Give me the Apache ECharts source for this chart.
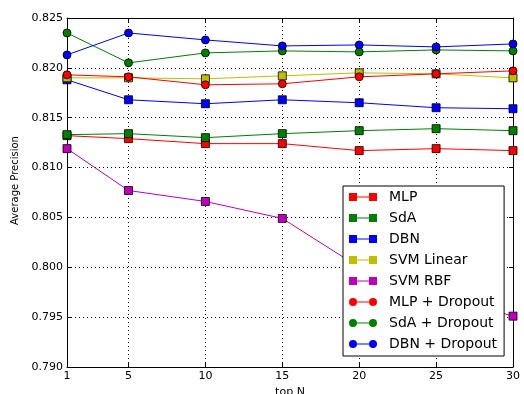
<!DOCTYPE html>
<html>
<head>
<meta charset="utf-8">
<script src="https://cdn.jsdelivr.net/npm/echarts@6/dist/echarts.min.js"></script>
<style>html,body{margin:0;padding:0;background:#fff}#c{width:524px;height:394px}</style>
</head>
<body>
<div id="c"></div>
<script>
var topN = [1, 5, 10, 15, 20, 25, 30];
var xTicks = [1, 5, 10, 15, 20, 25, 30];
var yTicks = [0.790, 0.795, 0.800, 0.805, 0.810, 0.815, 0.820, 0.825];

var mlp        = [0.8132, 0.8129, 0.8124, 0.8124, 0.8117, 0.8119, 0.8117];
var sda        = [0.8133, 0.8134, 0.8130, 0.8134, 0.8137, 0.8139, 0.8137];
var dbn        = [0.8188, 0.8168, 0.8164, 0.8168, 0.8165, 0.8160, 0.8159];
var svmLinear  = [0.8190, 0.8190, 0.8189, 0.8192, 0.8195, 0.8194, 0.8190];
var svmRbf     = [0.8119, 0.8077, 0.8066, 0.8049, 0.8000, 0.7973, 0.7951];
var mlpDrop    = [0.8193, 0.8191, 0.8183, 0.8184, 0.8191, 0.8194, 0.8197];
var sdaDrop    = [0.8235, 0.8205, 0.8215, 0.8217, 0.8216, 0.8218, 0.8217];
var dbnDrop    = [0.8213, 0.8235, 0.8228, 0.8222, 0.8223, 0.8221, 0.8224];

var names = ['MLP', 'SdA', 'DBN', 'SVM Linear', 'SVM RBF', 'MLP + Dropout', 'SdA + Dropout', 'DBN + Dropout'];
var values = [mlp, sda, dbn, svmLinear, svmRbf, mlpDrop, sdaDrop, dbnDrop];
var colors = ['#ff0000', '#008000', '#0000ff', '#bfbf00', '#bf00bf', '#ff0000', '#008000', '#0000ff'];
var shapes = ['rect', 'rect', 'rect', 'rect', 'rect', 'circle', 'circle', 'circle'];

var sqIcon = 'path://M0,0L8,0L8,8L0,8ZM8,3.5L20,3.5L20,4.5L8,4.5ZM20,0L28,0L28,8L20,8Z';
var ciIcon = 'path://M0,4A4,4,0,1,1,8,4A4,4,0,1,1,0,4ZM8,3.5L20,3.5L20,4.5L8,4.5ZM20,4A4,4,0,1,1,28,4A4,4,0,1,1,20,4Z';

var series = names.map(function (n, i) {
  return {
    name: n,
    type: 'line',
    xAxisIndex: 0,
    yAxisIndex: 0,
    data: topN.map(function (x, j) { return [x, values[i][j]]; }),
    symbol: shapes[i],
    symbolSize: 8,
    color: colors[i],
    lineStyle: { width: 1, color: colors[i] },
    itemStyle: { color: colors[i], borderColor: '#000', borderWidth: 0.8 },
    emphasis: { disabled: true },
    animation: false,
    z: 3
  };
});

var font = 'DejaVu Sans';
var chart = echarts.init(document.getElementById('c'), null, { renderer: 'canvas' });
chart.setOption({
  backgroundColor: '#fff',
  animation: false,
  grid: { left: 67, right: 11, top: 18, bottom: 27, show: false, containLabel: false, outerBoundsMode: 'none' },
  legend: {
    orient: 'vertical',
    left: 343,
    top: 186,
    padding: [4, 7, 5, 6],
    backgroundColor: '#fff',
    borderColor: '#000',
    borderWidth: 1,
    itemWidth: 28,
    itemHeight: 8,
    itemGap: 7,
    textStyle: { fontFamily: font, fontSize: 14, color: '#000', lineHeight: 14, padding: [0, 0, 0, 7] },
    data: names.map(function (n, i) {
      return { name: n, icon: shapes[i] === 'rect' ? sqIcon : ciIcon, itemStyle: { color: colors[i], borderWidth: 0 } };
    }),
    z: 10
  },
  xAxis: [{
    type: 'value',
    min: 1, max: 30,
    name: 'top N',
    nameLocation: 'middle',
    nameGap: 12,
    nameTextStyle: { fontFamily: font, fontSize: 11, color: '#000' },
    axisLine: { show: true, lineStyle: { color: '#000', width: 1 } },
    axisTick: { show: true, inside: true, length: 4, customValues: xTicks, lineStyle: { color: '#000' } },
    axisLabel: { customValues: xTicks, fontFamily: font, fontSize: 11, color: '#000', margin: 4 },
    splitLine: { show: true, lineStyle: { color: '#000', type: [1, 3], width: 1 } }
  }, {
    type: 'value',
    position: 'top',
    min: 1, max: 30,
    axisLine: { show: true, lineStyle: { color: '#000', width: 1 } },
    axisTick: { show: true, inside: true, length: 4, customValues: xTicks, lineStyle: { color: '#000' } },
    axisLabel: { show: false },
    splitLine: { show: false }
  }],
  yAxis: [{
    type: 'value',
    min: 0.790, max: 0.825, interval: 0.005,
    name: 'Average Precision',
    nameLocation: 'middle',
    nameGap: 44,
    nameTextStyle: { fontFamily: font, fontSize: 10, color: '#000', padding: [0, 0, 0, 24] },
    axisLine: { show: true, lineStyle: { color: '#000', width: 1 } },
    axisTick: { show: true, inside: true, length: 4, lineStyle: { color: '#000' } },
    axisLabel: { fontFamily: font, fontSize: 11, color: '#000', margin: 4, formatter: function (v) { return v.toFixed(3); } },
    splitLine: { show: true, lineStyle: { color: '#000', type: [1, 3], width: 1 } }
  }, {
    type: 'value',
    position: 'right',
    min: 0.790, max: 0.825, interval: 0.005,
    axisLine: { show: true, lineStyle: { color: '#000', width: 1 } },
    axisTick: { show: true, inside: true, length: 4, lineStyle: { color: '#000' } },
    axisLabel: { show: false },
    splitLine: { show: false }
  }],
  series: series
});
</script>
</body>
</html>
